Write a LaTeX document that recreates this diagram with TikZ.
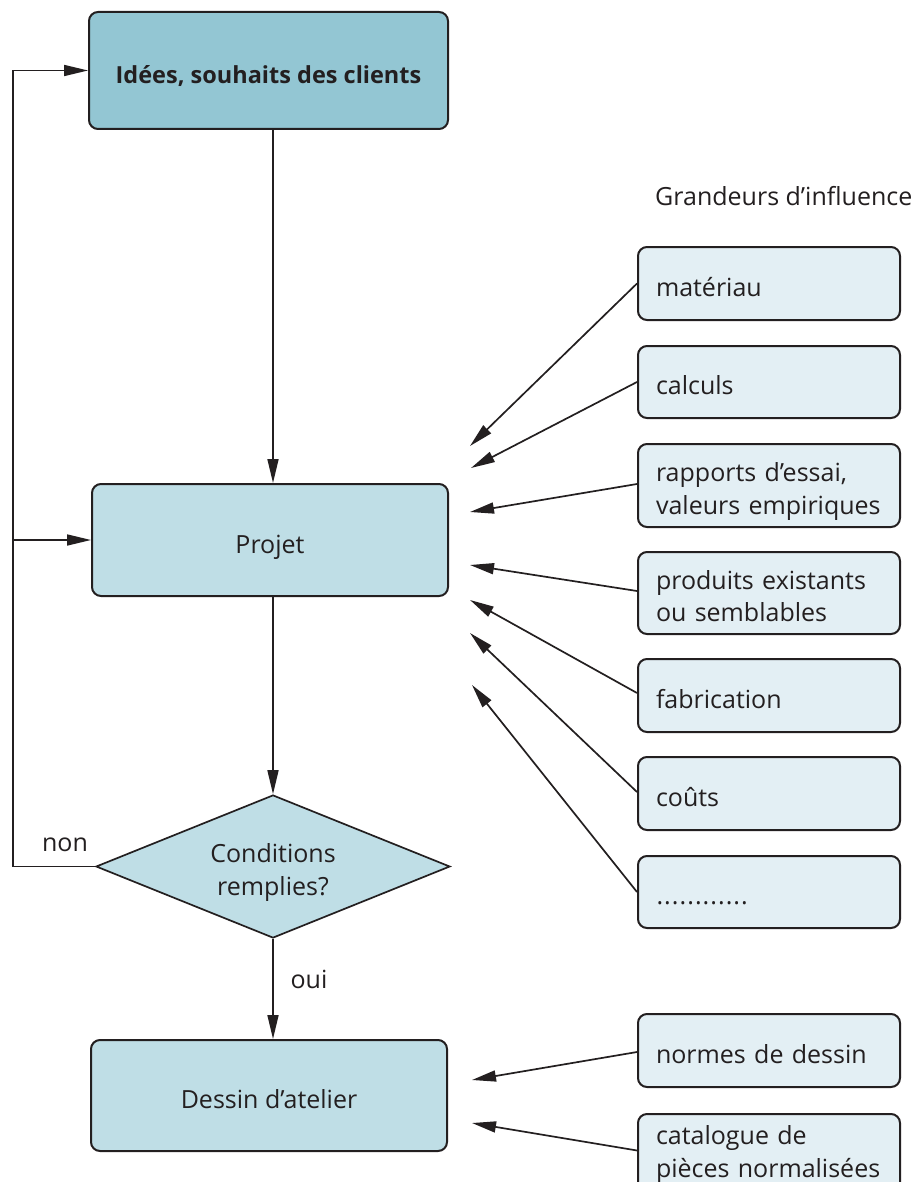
\documentclass[tikz,border=0pt]{standalone}
\usepackage{fontspec}
\setmainfont{Open Sans}
\usetikzlibrary{arrows.meta,shapes.geometric,calc}
\definecolor{boxA}{HTML}{93C6D3}
\definecolor{boxB}{HTML}{BFDEE6}
\definecolor{boxC}{HTML}{E3EFF4}
\definecolor{ink}{HTML}{231F20}
\begin{document}
\begin{tikzpicture}[x=1pt,y=-1pt,
  font=\fontsize{25}{32.5}\selectfont, text=ink,
  mainbox/.style={draw=ink,line width=2pt,rounded corners=9pt,fill=boxB,inner sep=0pt,minimum width=356pt,minimum height=112pt,align=center,text height=26pt,text depth=0pt},
  influ/.style={draw=ink,line width=2pt,rounded corners=9pt,fill=boxC,inner xsep=18pt,inner ysep=0pt,minimum width=262pt,text width=226pt,align=left,minimum height=#1,text height=25pt,text depth=0pt},
  two/.style={text height=22pt,text depth=30pt},
  arr/.style={draw=ink,line width=1.7pt,-{Triangle[length=24pt,width=11pt]}},
  lab/.style={inner sep=0pt}]
\fill[white] (0,0) rectangle (911,1182);
\useasboundingbox (0,0) rectangle (911,1182);
% main column
\node[mainbox,fill=boxA,minimum width=359pt,minimum height=117pt,font=\fontsize{23.5}{30}\selectfont\bfseries] (top) at (268.5,70.5) {Idées, souhaits des clients};
\node[mainbox] (projet) at (270,540) {Projet};
\node[diamond,draw=ink,line width=1.7pt,fill=boxB,aspect=2.475,minimum width=354pt,minimum height=143pt,inner sep=0pt,align=center,text height=57pt,text depth=0pt] (dia) at (273,866.5) {Conditions\\remplies?};
\node[mainbox,minimum height=111pt] (dessin) at (269,1095.5) {Dessin d’atelier};
\coordinate (vx) at (273,0);
\coordinate (lx) at (13,0);
\draw[arr] (vx |- top.south) -- (vx |- projet.north);
\draw[arr] (vx |- projet.south) -- (dia.north);
\draw[arr] (dia.south) -- (vx |- dessin.north);
\draw[arr] (dia.west) -- (lx |- dia.west) -- (lx |- top.west) -- (top.west);
\draw[arr] (lx |- projet.west) -- (projet.west);
\node[lab] (non) at (65,845) {non};
\node[lab] (oui) at (309,979) {oui};
% influences
\node[anchor=west,inner sep=0pt] (gi) at (655,196) {Grandeurs d’influence};
\node[influ=73pt] (mat) at (769,283.5) {matériau};
\node[influ=72pt] (calc) at (769,382) {calculs};
\node[influ=83pt,two] (rap) at (769,485.5) {rapports d’essai,\\valeurs empiriques};
\node[influ=82pt,two] (prod) at (769,593) {produits existants\\ou semblables};
\node[influ=73pt] (fab) at (769,695.5) {fabrication};
\node[influ=73pt] (cout) at (769,793.5) {coûts};
\node[influ=72pt] (dots) at (769,892) {\hbox to 100pt{\leaders\hbox to 7.7pt{\hss.\hss}\hfill}};
\node[influ=73pt] (norm) at (769,1050.5) {normes de dessin};
\node[influ=83pt,text height=15pt,text depth=37pt] (cat) at (769,1155.5) {catalogue de\\pièces normalisées};
\coordinate (e1) at (470,446);
\coordinate (e2) at (471,468);
\coordinate (e3) at (470,512);
\coordinate (e4) at (470,565);
\coordinate (e5) at (470,600);
\coordinate (e6) at (470,633);
\coordinate (e7) at (472,685);
\coordinate (e8) at (472,1080);
\coordinate (e9) at (472,1123);
\draw[arr] (mat.west) -- (e1);
\draw[arr] (calc.west) -- (e2);
\draw[arr] ($(rap.west)+(0,-1.5)$) -- (e3);
\draw[arr] ($(prod.west)+(0,-2)$) -- (e4);
\draw[arr] ($(fab.west)+(0,-2.5)$) -- (e5);
\draw[arr] ($(cout.west)+(0,-1.5)$) -- (e6);
\draw[arr] (dots.west) -- (e7);
\draw[arr] ($(norm.west)+(0,1.5)$) -- (e8);
\draw[arr] ($(cat.west)+(0,-5)$) -- (e9);
\end{tikzpicture}
\end{document}
